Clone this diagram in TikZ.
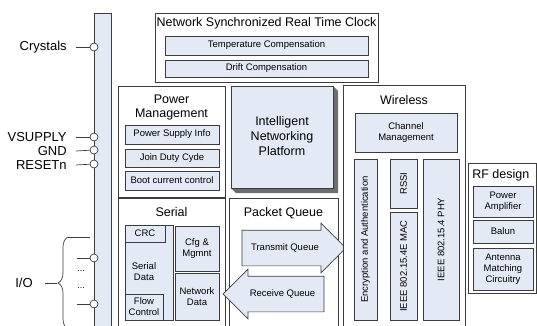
\documentclass[tikz,border=0pt]{standalone}
\usepackage{fontspec}
\setmainfont{Liberation Sans}
\usetikzlibrary{shapes.arrows, decorations.pathreplacing, positioning}
\definecolor{boxblue}{HTML}{E4EAF5}
\definecolor{edge}{HTML}{3C3C3C}
\definecolor{side}{HTML}{6E6E6E}

\begin{document}
\begin{tikzpicture}[x=1pt, y=-1pt, >=stealth, line width=0.7pt,
    sz/.style 2 args={minimum width=#1, minimum height=#2},
    group/.style={draw=edge, fill=white, inner sep=0pt},
    blk/.style={draw=edge, fill=boxblue, inner sep=0pt, align=center,
        font=\fontsize{9.5}{11}\selectfont},
    ttl/.style={align=center, inner sep=0pt, font=\fontsize{12.5}{14.5}\selectfont},
    pinlbl/.style={anchor=east, inner sep=0pt, font=\fontsize{13}{15}\selectfont},
    pin/.style={circle, draw=edge, fill=white, inner sep=0pt, minimum size=8pt},
    queue/.style={single arrow, draw=edge, fill=boxblue, inner xsep=0pt, inner ysep=13pt,
        text height=7pt, text depth=2pt, single arrow head extend=7pt,
        single arrow tip angle=90, font=\fontsize{9.5}{11}\selectfont}]
    \useasboundingbox (0,0) rectangle (537,325);
    \clip (0,0) rectangle (537,325);

    % Nodes
    \node[draw=edge, fill=boxblue, sz={17}{330}] (bus) at (102.5,178) {};

    \node[group, sz={223}{69}] (rtc) at (266.5,47.5) {};
    \node[ttl] (rtcT) at (266.5,23) {Network Synchronized Real Time Clock};
    \node[blk, sz={203}{19}] (temp) at (266.5,45.5) {Temperature Compensation};
    \node[blk, sz={203}{17}] (drift) at (266.5,68.5) {Drift Compensation};

    \node[group, sz={107}{111}] (pwr) at (171.5,141.5) {};
    \node[ttl] (pwrT) at (171.5,107.5) {Power\\Management};
    \node[blk, sz={94}{19}] (psi) at (172,134.5) {Power Supply Info};
    \node[blk, sz={94}{18}] (jdc) at (172,158) {Join Duty Cyde};
    \node[blk, sz={94}{19}] (bcc) at (172,180.5) {Boot current control};

    \fill[side] (333,86) -- (338,91) -- (338,193) -- (236,193) -- (231,188) -- cycle;
    \node[blk, sz={102}{102}, font=\fontsize{12.5}{15}\selectfont] (inp) at (282,137)
        {\raisebox{10pt}{\begin{tabular}{@{}c@{}}Intelligent\\Networking\\Platform\end{tabular}}};

    \node[group, sz={107}{132}] (ser) at (171.5,264) {};
    \node[ttl] (serT) at (171.5,212) {Serial};
    \node[blk, sz={48}{95}] (sdat) at (149,272.5) {};
    \node[blk, sz={40}{17}] (crc) at (145,233.5) {CRC};
    \node[blk, sz={38}{26}] (flow) at (144,307) {Flow\\Control};
    \node[align=center, inner sep=0pt, font=\fontsize{9.5}{11}\selectfont] (sdatT)
        at (144,272) {Serial\\Data};
    \node[blk, sz={44}{45}] (cfg) at (197,248.5) {Cfg \&\\Mgmnt};
    \node[blk, sz={44}{47}] (ndat) at (197,296.5) {Network\\Data};

    \node[group, sz={109}{132}] (pq) at (283.5,264) {};
    \node[ttl] (pqT) at (283.5,213) {Packet Queue};
    \node[queue, minimum height=104pt] (txq) at (285,248) {Transmit Queue};
    \node[queue, minimum height=101pt, shape border rotate=180] (rxq) at (282.5,294) {Receive Queue};

    \node[group, sz={122}{245}] (wl) at (404,207.5) {};
    \node[ttl] (wlT) at (404,100) {Wireless};
    \node[blk, sz={102}{39}] (chan) at (406,132.5) {Channel\\Management};
    \node[blk, rotate=90, sz={161}{23}] (enc) at (365.5,239.5) {Encryption and Authentication};
    \node[blk, rotate=90, sz={49}{27}] (rssi) at (403.5,183.5) {RSSI};
    \node[blk, rotate=90, sz={108}{27}] (mac) at (403.5,266) {IEEE 802.15.4E MAC};
    \node[blk, rotate=90, sz={161}{36}] (phy) at (441,239.5) {IEEE 802.15.4 PHY};

    \node[group, sz={68}{130}] (rf) at (502,228) {};
    \node[ttl, anchor=west] (rfT) at (472,175) {RF design};
    \node[blk, sz={60}{31}] (pa) at (503,201.5) {Power\\Amplifier};
    \node[blk, sz={60}{23}] (balun) at (503,231.5) {Balun};
    \node[blk, sz={60}{42}] (amc) at (503,269) {Antenna\\Matching\\Circuitry};

    % Pins
    \node[pin] (pXtal) at (94,47) {};
    \node[pin] (pVsup) at (94,137) {};
    \node[pin] (pGnd) at (94,150) {};
    \node[pin] (pRst) at (94,164) {};
    \node[pin] (pIoA) at (94,258) {};
    \node[pin] (pIoB) at (94,304) {};
    \node[pinlbl] (xtal) at (67,47) {Crystals};
    \node[pinlbl] (vsup) at (67,137) {VSUPPLY};
    \node[pinlbl] (gnd) at (67,151) {GND};
    \node[pinlbl] (rst) at (67,165) {RESETn};
    \node[pinlbl] (io) at (33,283) {I/O};
    \node[inner sep=0pt, font=\fontsize{9}{10}\selectfont] (dotA) at (81,271) {...};
    \node[inner sep=0pt, font=\fontsize{9}{10}\selectfont] (dotB) at (81,288) {...};
    \coordinate (ioTop) at (68,237);
    \coordinate (ioBot) at (68,329);
    \coordinate (ioTip) at (57,283);

    % Paths
    \draw[edge] ([xshift=9pt]xtal.east) -- (pXtal);
    \draw[edge] ([xshift=9pt]vsup.east) -- (pVsup);
    \draw[edge] ([xshift=9pt]gnd.east) -- (pGnd);
    \draw[edge] ([xshift=9pt]rst.east) -- (pRst);
    \draw[edge] (77,258) -- (pIoA);
    \draw[edge] (77,304) -- (pIoB);
    \draw[edge, decorate, decoration={brace, amplitude=10pt, mirror}] (ioTop) -- (ioBot);
    \draw[edge] (ioTop) -- ++(22,0);
    \draw[edge] ([xshift=12pt]io.east) -- (ioTip);
\end{tikzpicture}
\end{document}
